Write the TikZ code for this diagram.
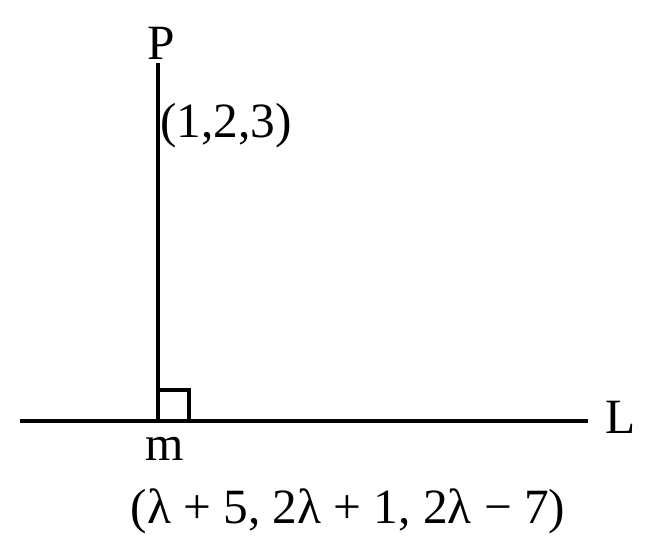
\documentclass[tikz,border=0pt]{standalone}
\usepackage{fontspec}
\setmainfont{Liberation Serif}
\usepackage{tikz}
\usetikzlibrary{positioning}

\begin{document}
\begin{tikzpicture}[x=0.75pt, y=-0.75pt, line width=3pt,
    lbl/.style={inner sep=0pt, anchor=base, font=\fontsize{37}{40}\selectfont}]
        \useasboundingbox (0,0) rectangle (661,553);
        \coordinate (top) at (158,63);
        \coordinate (foot) at (158,421);
        \coordinate (left) at (20,421);
        \coordinate (right) at (588,421);
        
        \node[lbl] (p) at (161,59) {P};
        \node[lbl] (pcoord) at (226,137) {(1,2,3)};
        \node[lbl] (m) at (165,460) {m};
        \node[lbl] (l) at (621,433) {L};
        \node[lbl] (mcoord) at (348,523) {(λ + 5, 2λ + 1, 2λ − 7)};
        
        \draw (top) -- (foot);
        \draw (left) -- (right);
        \draw (foot) ++(0,-31) -- ++(31,0) -- ++(0,31);
    \end{tikzpicture}
\end{document}
